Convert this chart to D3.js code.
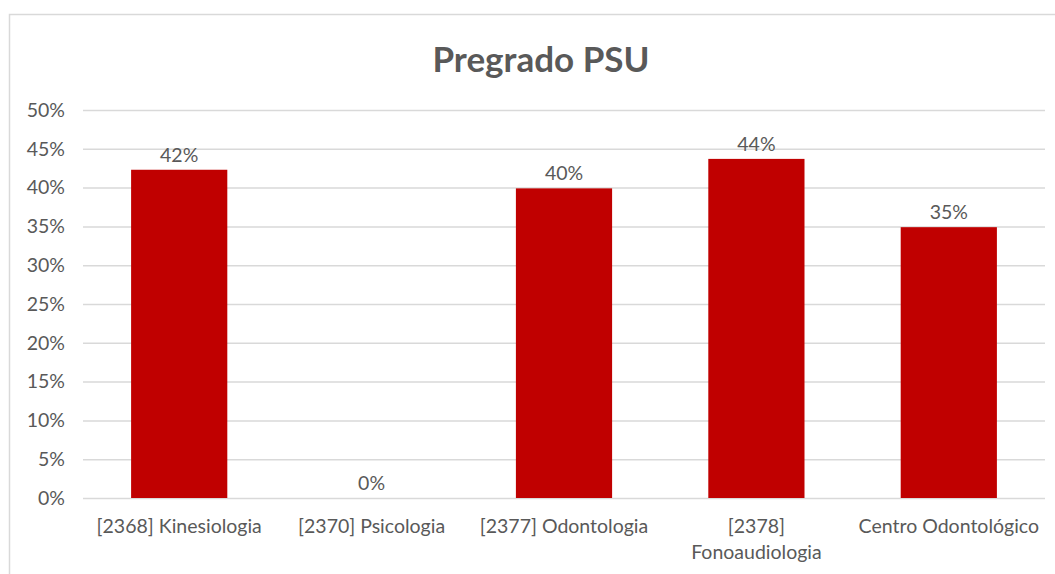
<!DOCTYPE html>
<html>
<head>
<meta charset="utf-8">
<script src="https://cdn.jsdelivr.net/npm/d3@7"></script>
<style>
  body { margin: 0; background: #fff; overflow: hidden; }
  svg { display: block; }
  text { font-family: Lato, "Open Sans", sans-serif; fill: #595959; }
  .tick text { font-size: 19.5px; }
  .title { font-size: 35px; font-weight: bold; }
  .data-label { font-size: 19.5px; }
  .cat-label { font-size: 19.5px; }
</style>
</head>
<body>
<svg width="1055" height="574"></svg>
<script>
const categories = [
  ['[2368] Kinesiologia'],
  ['[2370] Psicologia'],
  ['[2377] Odontologia'],
  ['[2378]', 'Fonoaudiologia'],
  ['Centro Odontológico']
]
const values = [0.423, 0, 0.399, 0.437, 0.349]
const valueLabels = ['42%', '0%', '40%', '44%', '35%']
const yTicks = [0, 0.05, 0.1, 0.15, 0.2, 0.25, 0.3, 0.35, 0.4, 0.45, 0.5]

const svg = d3.select('svg')
const width = +svg.attr('width')
const height = +svg.attr('height')

const margin = { left: 83, right: 10, top: 110, bottom: 76 }
const innerWidth = width - margin.left - margin.right
const innerHeight = height - margin.top - margin.bottom

// chart border (top and left edges visible)
svg.append('path')
  .attr('d', `M9.5,${height} V14.5 H${width}`)
  .attr('fill', 'none')
  .attr('stroke', '#d9d9d9')
  .attr('stroke-width', 1.5)

const data = values.map((v, i) => ({ cat: categories[i].join(' '), lines: categories[i], value: v, label: valueLabels[i] }))

const g = svg.append('g')
  .attr('transform', `translate(${margin.left},${margin.top})`)

const xScale = d3.scaleBand()
  .domain(data.map(d => d.cat))
  .range([0, innerWidth])
  .paddingInner(0.5)
  .paddingOuter(0.25)

const yScale = d3.scaleLinear()
  .domain([0, 0.5])
  .range([innerHeight, 0])

const yAxis = d3.axisLeft(yScale)
  .tickValues(yTicks)
  .tickFormat(d3.format('.0%'))
  .tickSize(-innerWidth)
  .tickPadding(18)

g.append('g').call(yAxis)
  .attr('font-size', null)
  .attr('font-family', null)
  .call(a => a.select('.domain').remove())
  .call(a => a.selectAll('.tick line').attr('stroke', '#d9d9d9').attr('stroke-width', 1.5))

g.selectAll('rect.bar')
  .data(data)
  .enter()
  .append('rect')
  .attr('class', 'bar')
  .attr('x', d => xScale(d.cat))
  .attr('y', d => yScale(d.value))
  .attr('width', xScale.bandwidth())
  .attr('height', d => innerHeight - yScale(d.value))
  .attr('fill', '#c00000')

g.selectAll('text.data-label')
  .data(data)
  .enter()
  .append('text')
  .attr('class', 'data-label')
  .attr('x', d => xScale(d.cat) + xScale.bandwidth() / 2)
  .attr('y', d => yScale(d.value) - 8)
  .attr('text-anchor', 'middle')
  .text(d => d.label)

// category labels (with wrapping)
const xLabels = g.append('g')
  .attr('transform', `translate(0,${innerHeight})`)
xLabels.selectAll('text')
  .data(data)
  .enter()
  .append('text')
  .attr('class', 'cat-label')
  .attr('text-anchor', 'middle')
  .attr('x', d => xScale(d.cat) + xScale.bandwidth() / 2)
  .attr('y', 35)
  .each(function (d) {
    d3.select(this).selectAll('tspan')
      .data(d.lines)
      .enter()
      .append('tspan')
      .attr('x', xScale(d.cat) + xScale.bandwidth() / 2)
      .attr('dy', (l, i) => i === 0 ? 0 : 26)
      .text(l => l)
  })

svg.append('text')
  .attr('class', 'title')
  .attr('x', 541)
  .attr('y', 72)
  .attr('text-anchor', 'middle')
  .text('Pregrado PSU')
</script>
</body>
</html>
